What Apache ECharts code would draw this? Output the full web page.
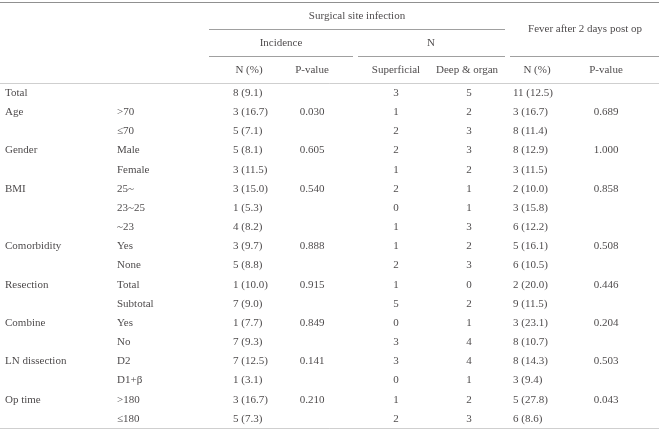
<!DOCTYPE html>
<html>
<head>
<meta charset="utf-8">
<script src="https://cdn.jsdelivr.net/npm/echarts@6/dist/echarts.min.js"></script>
<style>html,body{margin:0;padding:0;background:#fff}#c{width:659px;height:431px}</style>
</head>
<body>
<div id="c"></div>
<script>
// ---- data ----
const topHeaders = ['Surgical site infection', 'Fever after 2 days post op'];
const midHeaders = ['Incidence', 'N'];
const colHeaders = ['N (%)', 'P-value', 'Superficial', 'Deep & organ', 'N (%)', 'P-value'];
const variables = ['Total', 'Age', '', 'Gender', '', 'BMI', '', '', 'Comorbidity', '', 'Resection', '', 'Combine', '', 'LN dissection', '', 'Op time', ''];
const subgroups = ['', '>70', '≤70', 'Male', 'Female', '25~', '23~25', '~23', 'Yes', 'None', 'Total', 'Subtotal', 'Yes', 'No', 'D2', 'D1+β', '>180', '≤180'];
const ssiIncidence = ['8 (9.1)', '3 (16.7)', '5 (7.1)', '5 (8.1)', '3 (11.5)', '3 (15.0)', '1 (5.3)', '4 (8.2)', '3 (9.7)', '5 (8.8)', '1 (10.0)', '7 (9.0)', '1 (7.7)', '7 (9.3)', '7 (12.5)', '1 (3.1)', '3 (16.7)', '5 (7.3)'];
const ssiP = ['', '0.030', '', '0.605', '', '0.540', '', '', '0.888', '', '0.915', '', '0.849', '', '0.141', '', '0.210', ''];
const superficial = [3, 1, 2, 2, 1, 2, 0, 1, 1, 2, 1, 5, 0, 3, 3, 0, 1, 2];
const deepOrgan = [5, 2, 3, 3, 2, 1, 1, 3, 2, 3, 0, 2, 1, 4, 4, 1, 2, 3];
const feverN = ['11 (12.5)', '3 (16.7)', '8 (11.4)', '8 (12.9)', '3 (11.5)', '2 (10.0)', '3 (15.8)', '6 (12.2)', '5 (16.1)', '6 (10.5)', '2 (20.0)', '9 (11.5)', '3 (23.1)', '8 (10.7)', '8 (14.3)', '3 (9.4)', '5 (27.8)', '6 (8.6)'];
const feverP = ['', '0.689', '', '1.000', '', '0.858', '', '', '0.508', '', '0.446', '', '0.204', '', '0.503', '', '0.043', ''];

// ---- layout (positions / styles) ----
const W = 659;
const FONT = 'Liberation Serif';
const TEXT = '#1a1718';
const RULE = '#a0a0a0';
const bodyCols = [
  { vals: variables, x: 5, align: 'left' },
  { vals: subgroups, x: 117, align: 'left' },
  { vals: ssiIncidence, x: 233, align: 'left' },
  { vals: ssiP, x: 312, align: 'center' },
  { vals: superficial, x: 396, align: 'center' },
  { vals: deepOrgan, x: 469, align: 'center' },
  { vals: feverN, x: 513, align: 'left' },
  { vals: feverP, x: 606, align: 'center' }
];
const colHeaderX = [249, 312, 396, 467, 537, 606];
const midHeaderX = [281, 431];
const topHeaderPos = [{ x: 357, row: 0.5 }, { x: 585, row: 1.0 }];
const spans = {
  ssi: [209, 505], inc: [209, 353], nn: [358, 505], fev: [510, 659]
};

function textSeries(gi, points, align) {
  return {
    type: 'scatter', xAxisIndex: gi, yAxisIndex: gi,
    symbolSize: 1, itemStyle: { color: 'rgba(0,0,0,0)' },
    silent: true, animation: false,
    data: points,
    label: {
      show: true, position: 'inside', align: align, verticalAlign: 'middle',
      fontFamily: FONT, fontSize: 11, color: TEXT,
      formatter: p => String(p.value[2])
    }
  };
}
function ruleSeries(gi, segs) {
  return {
    type: 'lines', coordinateSystem: 'cartesian2d', xAxisIndex: gi, yAxisIndex: gi,
    silent: true, animation: false, polyline: false,
    data: segs.map(s => ({
      coords: [[s[0], s[2]], [s[1], s[2]]],
      lineStyle: { color: s[3] || RULE, width: s[4] || 1, opacity: 1 }
    }))
  };
}

const series = [];
// header texts
series.push(textSeries(0, topHeaders.map((t, i) => [topHeaderPos[i].x, topHeaderPos[i].row, t]), 'center'));
series.push(textSeries(0, midHeaders.map((t, i) => [midHeaderX[i], 1.5, t]), 'center'));
series.push(textSeries(0, colHeaders.map((t, i) => [colHeaderX[i], 2.5, t]), 'center'));
// body texts
bodyCols.forEach(c => {
  const pts = [];
  c.vals.forEach((v, r) => { if (v !== '') pts.push([c.x, r + 0.5, v]); });
  series.push(textSeries(1, pts, c.align));
});
// rules
series.push(ruleSeries(0, [
  [0, W, -0.02, '#222', 2],
  [spans.ssi[0], spans.ssi[1], 1],
  [spans.inc[0], spans.inc[1], 2],
  [spans.nn[0], spans.nn[1], 2],
  [spans.fev[0], spans.fev[1], 2],
  [0, W, 3]
]));
series.push(ruleSeries(1, [[0, W, subgroups.length]]));

const chart = echarts.init(document.getElementById('c'), null, { renderer: 'canvas' });
chart.setOption({
  animation: false,
  grid: [
    { left: 0, right: 0, top: 2.5, height: 81 },
    { left: 0, right: 0, top: 83.5, height: 345 }
  ],
  xAxis: [
    { type: 'value', gridIndex: 0, min: 0, max: W, show: false },
    { type: 'value', gridIndex: 1, min: 0, max: W, show: false }
  ],
  yAxis: [
    { type: 'value', gridIndex: 0, min: 0, max: 3, inverse: true, show: false },
    { type: 'value', gridIndex: 1, min: 0, max: subgroups.length, inverse: true, show: false }
  ],
  series: series
});
</script>
</body>
</html>
